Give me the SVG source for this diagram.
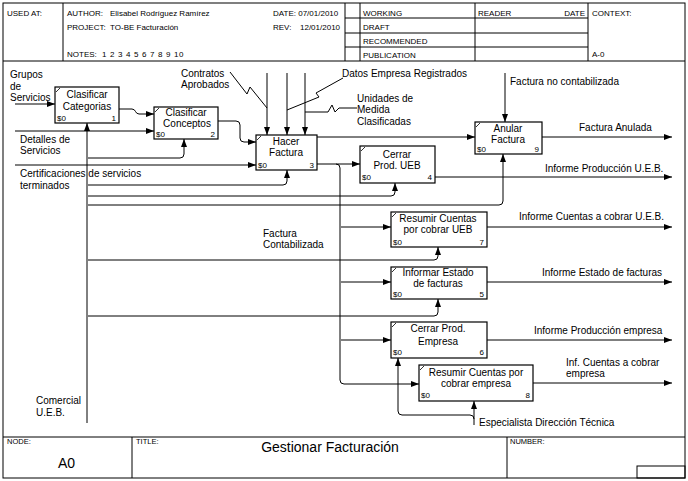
<svg xmlns="http://www.w3.org/2000/svg" width="688" height="481" viewBox="0 0 688 481">
<style>
text { font-family: "Liberation Sans", Arial, sans-serif; fill: #000; }
.h { font-size: 8px; }
.f { font-size: 7.5px; }
.l { font-size: 10px; }
.bt { font-size: 10px; text-anchor: middle; }
.s { font-size: 8px; }
.e { text-anchor: end; }
.fr { fill: none; stroke: #000; stroke-width: 1; }
.box { fill: #fff; stroke: #000; stroke-width: 1.2; }
.tk { stroke: #000; stroke-width: 0.8; }
.c { fill: none; stroke: #000; stroke-width: 1; }
.a { marker-end: url(#arr); }
</style>
<defs>
<marker id="arr" markerUnits="userSpaceOnUse" markerWidth="8" markerHeight="6" refX="8" refY="3" orient="auto"><path d="M0,0 L8,3 L0,6 z" fill="#000"/></marker>
</defs>
<rect x="0" y="0" width="688" height="481" fill="#fff"/>
<g id="frame" class="fr">
<rect x="3" y="3" width="682" height="475"/>
<path d="M3,61 H685 M63,3 V61 M345,3 V61 M360,3 V61 M475,3 V61 M588,3 V61 M345,18 H588 M345,33 H588 M345,47 H588"/>
<path d="M3,437 H685 M132,437 V478 M507,437 V478"/>
<rect x="637" y="466" width="48" height="12"/>
</g>
<g id="header">
<text class="h" x="7" y="16">USED AT:</text>
<text class="h" x="67" y="16">AUTHOR:  <tspan x="110">Elisabel Rodríguez Ramírez</tspan></text>
<text class="h" x="273" y="16">DATE: 07/01/2010</text>
<text class="h" x="67" y="30">PROJECT:  <tspan x="110">TO-BE Facturación</tspan></text>
<text class="h" x="273" y="30">REV:  <tspan x="300">12/01/2010</tspan></text>
<text class="h" x="67" y="57">NOTES:<tspan x="102 110 118 126 134 142 150 158 166 174 179">12345678910</tspan></text>
<text class="h" x="363" y="16">WORKING</text>
<text class="h" x="363" y="30">DRAFT</text>
<text class="h" x="363" y="44">RECOMMENDED</text>
<text class="h" x="363" y="58">PUBLICATION</text>
<text class="h" x="478" y="16">READER</text>
<text class="h e" x="585" y="16">DATE</text>
<text class="h" x="592" y="16">CONTEXT:</text>
<text class="h" x="592" y="57">A-0</text>
</g>
<g id="footer">
<text class="f" x="7" y="444">NODE:</text>
<text x="58" y="468" style="font-size:14px">A0</text>
<text class="f" x="136" y="444">TITLE:</text>
<text x="330" y="452" style="font-size:14px" text-anchor="middle">Gestionar Facturación</text>
<text class="f" x="510" y="444">NUMBER:</text>
</g>
<g id="connectors">
<path class="c a" d="M15,104 H55"/>
<path class="c a" d="M15,131 H154"/>
<path class="c a" d="M15,165 H256"/>
<path class="c a" d="M119,109 H132 C136,109 135,114 139,114 H154"/>
<path class="c a" d="M218,121 H236 Q240,121 240,125 V138 Q240,142 244,142 H256"/>
<path class="c a" d="M317,137 H475"/>
<path class="c a" d="M317,164 H360"/>
<path class="c a" d="M336,164 Q340,164 340,168 V380 Q340,384 344,384 H419"/>
<path class="c a" d="M341,227 H391"/>
<path class="c a" d="M341,282 H391"/>
<path class="c a" d="M341,340 H391"/>
<path class="c a" d="M542,137 H672"/>
<path class="c a" d="M435,177 H672"/>
<path class="c a" d="M487,227 H672"/>
<path class="c a" d="M487,282 H672"/>
<path class="c a" d="M487,340 H672"/>
<path class="c a" d="M533,383 H672"/>
<path class="c a" d="M267,73 V135"/>
<path class="c a" d="M287,73 V135"/>
<path class="c a" d="M305,73 V135"/>
<path class="c a" d="M505,73 V122"/>
<path class="c a" d="M87,423 V123"/>
<path class="c a" d="M88,158 H180 Q184,158 184,154 V139"/>
<path class="c a" d="M88,185 H283 Q287,185 287,181 V170"/>
<path class="c a" d="M88,196 H391 Q395,196 395,192 V183"/>
<path class="c a" d="M88,205 H499 Q503,205 503,201 V154"/>
<path class="c a" d="M88,260 H434 Q438,260 438,256 V247"/>
<path class="c a" d="M88,316 H434 Q438,316 438,312 V299"/>
<path class="c a" d="M474,425 V401"/>
<path class="c a" d="M474,419 Q474,415 470,415 H402 Q398,415 398,411 V358"/>
<path class="c" d="M230,72 L247,94 L250,87 L267,108"/>
<path class="c" d="M343,78 L316,93 L319,97 L287,110"/>
<path class="c" d="M305,112 H328 L332,105 L335,112 L339,108 H357"/>
</g>
<g id="labels">
<text class="l" x="10" y="78">Grupos</text>
<text class="l" x="10" y="90">de</text>
<text class="l" x="10" y="101">Servicios</text>
<text class="l" x="20" y="143">Detalles de</text>
<text class="l" x="20" y="154">Servicios</text>
<text class="l" x="20" y="177">Certificaciones de servicios</text>
<text class="l" x="20" y="189">terminados</text>
<text class="l" x="181" y="77">Contratos</text>
<text class="l" x="181" y="88">Aprobados</text>
<text class="l" x="342" y="77">Datos Empresa Registrados</text>
<text class="l" x="357" y="102">Unidades de</text>
<text class="l" x="357" y="113">Medida</text>
<text class="l" x="357" y="125">Clasificadas</text>
<text class="l" x="510" y="85">Factura no contabilizada</text>
<text class="l" x="579" y="131">Factura Anulada</text>
<text class="l" x="545" y="172">Informe Producción U.E.B.</text>
<text class="l" x="519" y="220">Informe Cuentas a cobrar U.E.B.</text>
<text class="l" x="542" y="276">Informe Estado de facturas</text>
<text class="l" x="534" y="334">Informe Producción empresa</text>
<text class="l" x="566" y="366">Inf. Cuentas a cobrar</text>
<text class="l" x="566" y="377">empresa</text>
<text class="l" x="263" y="237">Factura</text>
<text class="l" x="263" y="248">Contabilizada</text>
<text class="l" x="36" y="404">Comercial</text>
<text class="l" x="36" y="416">U.E.B.</text>
<text class="l" x="479" y="426">Especialista Dirección Técnica</text>
</g>
<g id="n1">
<rect class="box" x="55" y="87" width="64" height="36"/>
<line class="tk" x1="56" y1="92" x2="60" y2="88"/>
<text class="bt" x="87" y="98">Clasificar</text>
<text class="bt" x="87" y="110">Categorias</text>
<text class="s" x="57" y="121">$0</text>
<text class="s e" x="116" y="121">1</text>
</g>
<g id="n2">
<rect class="box" x="154" y="107" width="64" height="32"/>
<line class="tk" x1="155" y1="112" x2="159" y2="108"/>
<text class="bt" x="186" y="116">Clasificar</text>
<text class="bt" x="187" y="127">Conceptos</text>
<text class="s" x="156" y="137">$0</text>
<text class="s e" x="215" y="137">2</text>
</g>
<g id="n3">
<rect class="box" x="256" y="135" width="61" height="35"/>
<line class="tk" x1="257" y1="140" x2="261" y2="136"/>
<text class="bt" x="286" y="145">Hacer</text>
<text class="bt" x="286" y="156">Factura</text>
<text class="s" x="258" y="168">$0</text>
<text class="s e" x="314" y="168">3</text>
</g>
<g id="n4">
<rect class="box" x="360" y="146" width="75" height="37"/>
<line class="tk" x1="361" y1="151" x2="365" y2="147"/>
<text class="bt" x="397" y="158">Cerrar</text>
<text class="bt" x="397" y="169">Prod. UEB</text>
<text class="s" x="362" y="180">$0</text>
<text class="s e" x="432" y="180">4</text>
</g>
<g id="n9">
<rect class="box" x="475" y="122" width="67" height="32"/>
<line class="tk" x1="476" y1="127" x2="480" y2="123"/>
<text class="bt" x="508" y="132">Anular</text>
<text class="bt" x="508" y="143">Factura</text>
<text class="s" x="477" y="152">$0</text>
<text class="s e" x="539" y="152">9</text>
</g>
<g id="n7">
<rect class="box" x="391" y="212" width="96" height="35"/>
<line class="tk" x1="392" y1="217" x2="396" y2="213"/>
<text class="bt" x="438" y="222">Resumir Cuentas</text>
<text class="bt" x="438" y="233">por cobrar UEB</text>
<text class="s" x="393" y="245">$0</text>
<text class="s e" x="484" y="245">7</text>
</g>
<g id="n5">
<rect class="box" x="391" y="267" width="96" height="32"/>
<line class="tk" x1="392" y1="272" x2="396" y2="268"/>
<text class="bt" x="438" y="276">Informar Estado</text>
<text class="bt" x="438" y="287">de facturas</text>
<text class="s" x="393" y="297">$0</text>
<text class="s e" x="484" y="297">5</text>
</g>
<g id="n6">
<rect class="box" x="391" y="322" width="96" height="36"/>
<line class="tk" x1="392" y1="327" x2="396" y2="323"/>
<text class="bt" x="438" y="332">Cerrar Prod.</text>
<text class="bt" x="438" y="345">Empresa</text>
<text class="s" x="393" y="355">$0</text>
<text class="s e" x="484" y="355">6</text>
</g>
<g id="n8">
<rect class="box" x="419" y="365" width="114" height="36"/>
<line class="tk" x1="420" y1="370" x2="424" y2="366"/>
<text class="bt" x="476" y="376">Resumir Cuentas por</text>
<text class="bt" x="476" y="387">cobrar empresa</text>
<text class="s" x="421" y="398">$0</text>
<text class="s e" x="530" y="398">8</text>
</g>
</svg>
